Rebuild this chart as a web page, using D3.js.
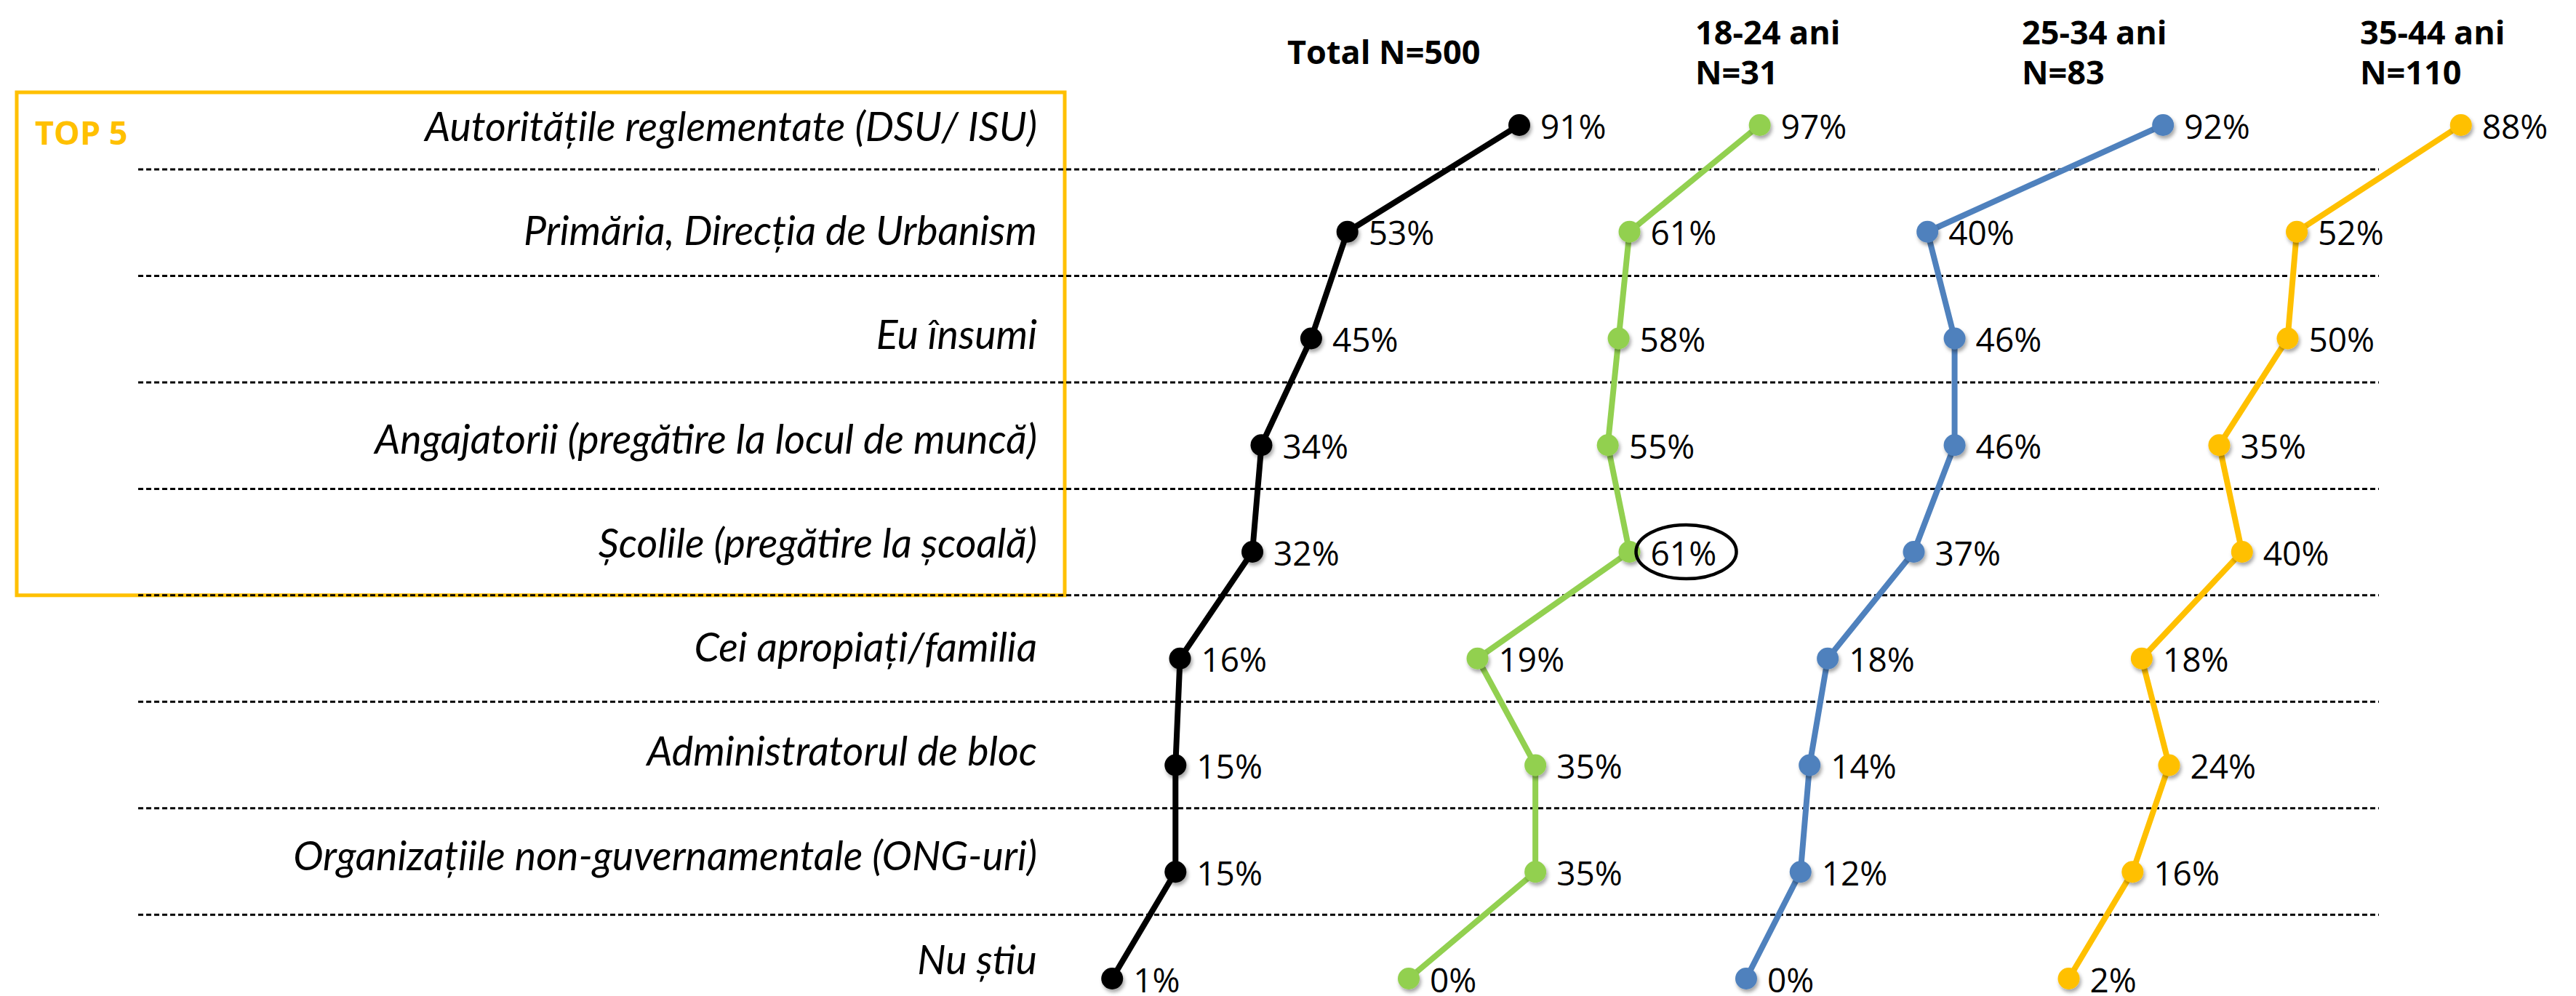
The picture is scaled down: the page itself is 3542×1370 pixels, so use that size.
<!DOCTYPE html>
<html lang="ro">
<head>
<meta charset="UTF-8">
<script src="https://d3js.org/d3.v7.min.js"></script>
<title>Surse de informare</title>
<style>
  body { margin: 0; background: #fff; }
  svg { display: block; font-family: "Open Sans", sans-serif; }
</style>
</head>
<body>
<svg id="chart" width="3542" height="1370"></svg>
<script>
  const categories = [
    "Autoritățile reglementate (DSU/ ISU)",
    "Primăria, Direcția de Urbanism",
    "Eu însumi",
    "Angajatorii (pregătire la locul de muncă)",
    "Școlile (pregătire la școală)",
    "Cei apropiați/familia",
    "Administratorul de bloc",
    "Organizațiile non-guvernamentale (ONG-uri)",
    "Nu știu"
  ];
  const headers = [["Total N=500"], ["18-24 ani", "N=31"], ["25-34 ani", "N=83"], ["35-44 ani", "N=110"]];
  const totalValues = [91, 53, 45, 34, 32, 16, 15, 15, 1];
  const age1824Values = [97, 61, 58, 55, 61, 19, 35, 35, 0];
  const age2534Values = [92, 40, 46, 46, 37, 18, 14, 12, 0];
  const age3544Values = [88, 52, 50, 35, 40, 18, 24, 16, 2];
  const topLabel = "TOP 5";
  const topCount = 5;
  const circled = { panel: 1, category: "Școlile (pregătire la școală)" };

  // fiecare coloana are propria axa x (ca in graficele separate din Excel)
  const panels = [
    { values: totalValues, color: "#000000", x0: 1523, width: 622, max: 100, headX: 1770 },
    { values: age1824Values, color: "#92D050", x0: 1937, width: 622, max: 125, headX: 2331 },
    { values: age2534Values, color: "#4F81BD", x0: 2401, width: 623, max: 100, headX: 2780 },
    { values: age3544Values, color: "#FFC000", x0: 2832, width: 627, max: 100, headX: 3245 }
  ];

  const svg = d3.select("#chart");

  const defs = svg.append("defs");
  defs.append("filter")
    .attr("id", "shadow")
    .attr("x", "-50%").attr("y", "-50%")
    .attr("width", "200%").attr("height", "200%")
    .append("feDropShadow")
    .attr("dx", 2).attr("dy", 4)
    .attr("stdDeviation", 2.5)
    .attr("flood-color", "#000")
    .attr("flood-opacity", 0.35);

  // randuri de tabel (linii punctate), etichete si pozitia punctelor
  const yBand = d3.scaleBand().domain(categories).range([86.6, 1404.6]);
  const yLabel = d3.scalePoint().domain(categories).range([174, 1320]);
  const yPoint = d3.scalePoint().domain(categories).range([172, 1346]);

  // chenarul TOP 5
  svg.append("rect")
    .attr("x", 23)
    .attr("y", 127)
    .attr("width", 1441)
    .attr("height", yBand(categories[topCount]) - 127)
    .style("fill", "none")
    .style("stroke", "#FFC000")
    .style("stroke-width", 5);

  svg.append("text")
    .attr("x", 48)
    .attr("y", 199)
    .style("font-size", "45px")
    .style("font-weight", "bold")
    .style("fill", "#FFC000")
    .text(topLabel);

  // linii punctate intre randuri
  svg.append("g")
    .selectAll("line")
    .data(categories.slice(1))
    .enter()
    .append("line")
    .attr("x1", 190)
    .attr("x2", 3271)
    .attr("y1", d => yBand(d))
    .attr("y2", d => yBand(d))
    .style("stroke", "#000")
    .style("stroke-width", 3)
    .style("stroke-dasharray", "7 4");

  // etichetele categoriilor
  svg.append("g")
    .selectAll("text")
    .data(categories)
    .enter()
    .append("text")
    .attr("x", 1426)
    .attr("y", d => yLabel(d))
    .attr("dy", "0.36em")
    .attr("text-anchor", "end")
    .style("font-family", "Lato, sans-serif")
    .style("font-size", "55.5px")
    .style("font-style", "italic")
    .text(d => d);

  panels.forEach((p, pi) => {
    const x = d3.scaleLinear().domain([0, p.max]).range([p.x0, p.x0 + p.width]);
    const pts = categories.map((c, i) => ({ c, v: p.values[i] }));
    const g = svg.append("g").attr("class", "panel");

    g.append("path")
      .datum(pts)
      .attr("d", d3.line().x(d => x(d.v)).y(d => yPoint(d.c)))
      .style("fill", "none")
      .style("stroke", p.color)
      .style("stroke-width", 8)
      .style("stroke-linejoin", "round");

    g.selectAll("circle")
      .data(pts)
      .enter()
      .append("circle")
      .attr("cx", d => x(d.v))
      .attr("cy", d => yPoint(d.c))
      .attr("r", 15)
      .style("fill", p.color)
      .attr("filter", "url(#shadow)");

    g.selectAll("text.val")
      .data(pts)
      .enter()
      .append("text")
      .attr("class", "val")
      .attr("x", d => x(d.v) + 29)
      .attr("y", d => yPoint(d.c) + 2)
      .attr("dy", "0.36em")
      .style("font-size", "46px")
      .text(d => d.v + "%");

    // elipsa in jurul valorii evidentiate
    if (pi === circled.panel) {
      const v = p.values[categories.indexOf(circled.category)];
      g.append("ellipse")
        .attr("cx", x(v) + 78)
        .attr("cy", yPoint(circled.category))
        .attr("rx", 69)
        .attr("ry", 37)
        .style("fill", "none")
        .style("stroke", "#000")
        .style("stroke-width", 4.5);
    }

    // antetul coloanei
    const lines = headers[pi];
    svg.append("text")
      .style("font-size", "45px")
      .style("font-weight", "bold")
      .selectAll("tspan")
      .data(lines)
      .enter()
      .append("tspan")
      .attr("x", p.headX)
      .attr("y", (d, i) => 88 + (i - (lines.length - 1) / 2) * 55)
      .text(d => d);
  });
</script>
</body>
</html>
